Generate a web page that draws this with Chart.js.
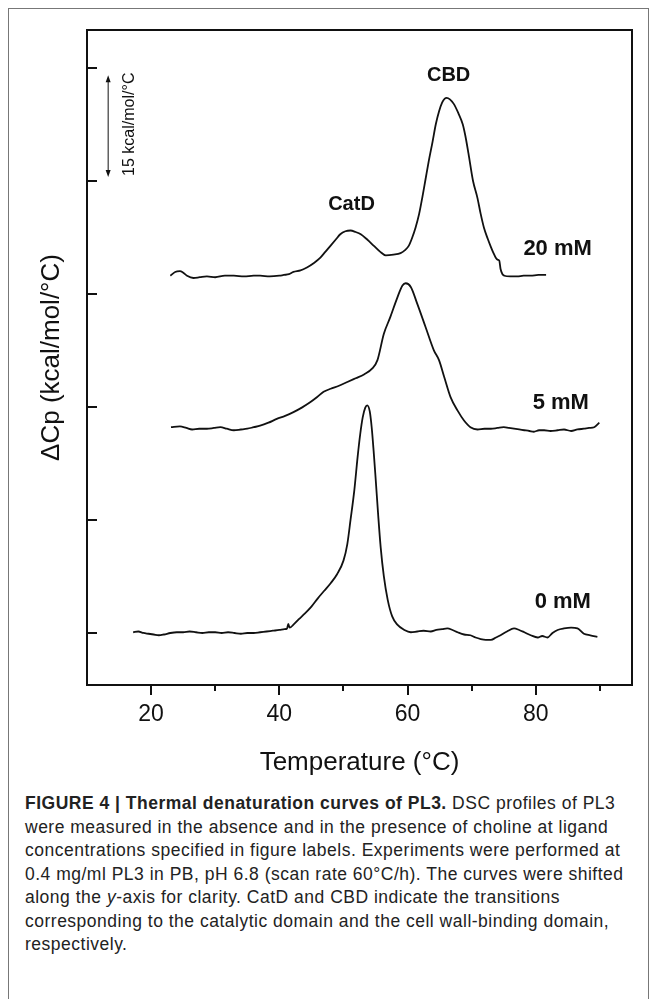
<!DOCTYPE html>
<html>
<head>
<meta charset="utf-8">
<script src="https://cdn.jsdelivr.net/npm/chart.js@4"></script>
<style>
  body { margin: 0; background: #fff; }
  #frame { position: absolute; left: 8px; top: 8px; width: 639px; height: 1010px; border: 1px solid #777; }
  #wrap { position: absolute; left: 0; top: 0; width: 657px; height: 790px; }
  #caption { position: absolute; left: 25px; top: 792px; white-space: nowrap; color: #222;
    font-family: "Liberation Sans", Arial, sans-serif; font-size: 17.5px; letter-spacing: 0.5px; line-height: 23.5px; }
</style>
</head>
<body>
<div id="frame"></div>
<div id="wrap"><canvas id="myChart"></canvas></div>
<div id="caption"><b>FIGURE 4 | Thermal denaturation curves of PL3.</b> DSC profiles of PL3<br>were measured in the absence and in the presence of choline at ligand<br>concentrations specified in figure labels. Experiments were performed at<br>0.4 mg/ml PL3 in PB, pH 6.8 (scan rate 60°C/h). The curves were shifted<br>along the <i>y</i>-axis for clarity. CatD and CBD indicate the transitions<br>corresponding to the catalytic domain and the cell wall-binding domain,<br>respectively.</div>
<script>
// temperatures (°C) and excess heat capacity (kcal/mol/°C, shifted)
const t0 = [17.2, 18.0, 18.8, 19.6, 20.4, 21.2, 22.0, 23.0, 24.0, 25.0, 26.0, 27.0, 28.0, 29.0, 30.0, 31.0, 32.0, 33.0, 34.0, 35.0,
  36.0, 37.0, 38.0, 39.0, 40.0, 40.8, 41.2, 41.4, 41.6, 42.2, 43.0, 44.0, 45.0, 46.0, 47.0, 48.0, 49.0, 50.0, 50.6, 51.1,
  51.7, 52.2, 52.6, 53.0, 53.4, 53.7, 54.1, 54.4, 54.7, 55.0, 55.4, 55.8, 56.3, 56.9, 57.6, 58.4, 59.5, 60.5, 61.5, 62.5,
  63.6, 64.5, 65.4, 66.2, 67.0, 67.8, 68.8, 69.8, 70.6, 71.4, 72.2, 73.0, 73.8, 74.5, 75.5, 76.6, 77.4, 78.2, 79.2, 80.3,
  81.0, 81.8, 82.6, 83.4, 84.4, 85.5, 86.5, 87.5, 88.5, 89.6];
const cp0 = [0.1, 0.2, 0.0, -0.1, -0.2, -0.3, -0.2, 0.0, 0.1, 0.1, 0.2, 0.1, 0.0, 0.1, 0.1, 0.0, 0.1, 0.0, -0.1, 0.0,
  0.0, 0.1, 0.2, 0.3, 0.4, 0.5, 0.6, 1.2, 0.7, 1.1, 1.8, 2.6, 3.5, 4.6, 5.6, 6.6, 7.8, 9.6, 11.8, 15.0,
  19.0, 23.3, 26.3, 28.6, 29.9, 30.2, 29.4, 27.3, 24.2, 20.7, 15.8, 11.4, 7.5, 4.4, 2.2, 1.1, 0.4, 0.1, 0.2, 0.3,
  0.2, 0.4, 0.5, 0.6, 0.4, 0.1, -0.2, -0.3, -0.6, -0.8, -0.9, -0.9, -0.6, -0.3, 0.2, 0.6, 0.4, 0.1, -0.3, -0.6,
  -0.4, -0.6, 0.0, 0.4, 0.6, 0.7, 0.6, -0.1, -0.3, -0.5];

const t5 = [23.1, 24.5, 25.5, 26.4, 27.5, 28.7, 29.8, 30.8, 31.8, 32.9, 34.0, 35.0, 36.0, 37.0, 38.3, 39.6, 40.9, 42.2, 43.5, 44.8,
  45.9, 46.9, 48.0, 49.3, 50.6, 51.9, 53.2, 54.5, 55.3, 56.3, 57.3, 58.4, 59.2, 59.7, 60.5, 61.5, 62.8, 64.1, 64.9, 65.7,
  66.7, 67.8, 68.8, 69.8, 70.9, 72.0, 73.0, 74.0, 75.0, 75.8, 76.6, 77.4, 78.2, 79.0, 79.7, 80.5, 81.3, 82.3, 83.4, 84.4,
  85.5, 86.5, 87.5, 88.3, 89.1, 89.9];
const cp5 = [27.3, 27.4, 27.2, 27.0, 27.1, 27.1, 27.2, 27.3, 27.1, 26.9, 27.0, 27.1, 27.3, 27.5, 27.9, 28.4, 28.8, 29.3, 29.9, 30.6,
  31.3, 32.0, 32.4, 32.8, 33.3, 33.8, 34.3, 35.1, 36.2, 39.7, 41.9, 44.5, 46.1, 46.4, 45.9, 43.7, 40.6, 37.5, 36.2, 34.0,
  31.3, 29.5, 28.2, 27.3, 27.0, 27.1, 27.1, 27.2, 27.3, 27.2, 27.1, 27.0, 26.9, 26.8, 26.7, 26.9, 26.9, 26.8, 26.9, 27.0,
  26.8, 27.0, 27.1, 27.2, 27.3, 27.9];

const t20 = [23.0, 23.75, 24.5, 25.0, 25.6, 26.6, 27.6, 28.7, 30.0, 31.5, 32.9, 34.5, 36.0, 37.0, 38.5, 40.0, 40.7, 41.5, 42.2, 43.3,
  44.3, 45.4, 46.4, 47.2, 48.0, 48.8, 49.5, 50.3, 51.1, 51.9, 52.7, 53.7, 54.7, 55.7, 56.6, 57.8, 58.9, 59.6, 60.2, 60.7,
  61.25, 61.8, 62.3, 62.8, 63.3, 63.9, 64.4, 64.9, 65.4, 65.8, 66.1, 66.6, 67.2, 67.9, 68.6, 69.0, 69.5, 70.2, 70.9, 71.4,
  71.9, 72.5, 73.0, 73.4, 73.75, 74.1, 74.3, 74.5, 74.8, 75.1, 76.0, 77.1, 78.1, 79.2, 80.4, 81.6];
const cp20 = [47.4, 47.9, 48.0, 47.8, 47.4, 47.1, 47.2, 47.3, 47.2, 47.4, 47.4, 47.3, 47.4, 47.4, 47.3, 47.4, 47.5, 47.6, 47.9, 48.1,
  48.5, 49.1, 49.8, 50.6, 51.4, 52.2, 52.9, 53.3, 53.4, 53.2, 52.9, 52.2, 51.4, 50.6, 50.1, 50.2, 50.4, 50.8, 51.4, 52.4,
  53.8, 55.6, 57.8, 60.2, 62.6, 65.2, 67.5, 69.2, 70.4, 70.9, 71.0, 70.8, 70.2, 69.0, 67.5, 66.0, 63.6, 60.0, 57.7, 55.6,
  53.8, 52.3, 51.2, 50.4, 49.8, 49.5, 49.4, 48.3, 47.6, 47.4, 47.3, 47.3, 47.4, 47.4, 47.5, 47.5];

const xTicks = [20, 30, 40, 50, 60, 70, 80, 90];
const yTicks = [0, 15, 30, 45, 60, 75];
const curveLabels = ['0 mM', '5 mM', '20 mM'];
const peakLabels = ['CatD', 'CBD'];
const scaleBarText = '15 kcal/mol/°C';

function pts(xs, ys) {
    return xs.map((x, i) => ({ x: x, y: ys[i] }));
}

// where the texts sit, in axis units
const notes = [
    { text: curveLabels[0], x: 84.2, y: 4.1, size: 22 },
    { text: curveLabels[1], x: 83.9, y: 30.5, size: 22 },
    { text: curveLabels[2], x: 83.4, y: 51.0, size: 22 },
    { text: peakLabels[0], x: 51.25, y: 56.8, size: 20 },
    { text: peakLabels[1], x: 66.4, y: 73.9, size: 20 },
];

const ink = '#111';
const sans = '"Liberation Sans", Arial, sans-serif';

const decorations = {
    id: 'decorations',
    afterDraw(chart) {
        const { ctx, chartArea: a, scales: { x, y } } = chart;
        ctx.save();
        ctx.strokeStyle = ink;
        ctx.lineWidth = 2;
        // top and right of the frame
        ctx.beginPath();
        ctx.moveTo(a.left, a.top);
        ctx.lineTo(a.right, a.top);
        ctx.lineTo(a.right, a.bottom);
        ctx.stroke();
        // y ticks point inward
        ctx.beginPath();
        y.ticks.forEach(t => {
            const py = Math.round(y.getPixelForValue(t.value));
            ctx.moveTo(a.left, py);
            ctx.lineTo(a.left + 10, py);
        });
        // x ticks point down, unlabelled ones shorter
        x.ticks.forEach(t => {
            const px = Math.round(x.getPixelForValue(t.value));
            ctx.moveTo(px, a.bottom);
            ctx.lineTo(px, a.bottom + (t.value % 20 === 0 ? 10 : 6));
        });
        ctx.stroke();

        ctx.fillStyle = ink;
        ctx.textAlign = 'center';
        ctx.textBaseline = 'middle';
        notes.forEach(n => {
            ctx.font = 'bold ' + n.size + 'px ' + sans;
            ctx.fillText(n.text, x.getPixelForValue(n.x), y.getPixelForValue(n.y));
        });

        // 15 kcal/mol/°C scale bar
        const bx = x.getPixelForValue(13.3);
        const b1 = y.getPixelForValue(74.0);
        const b2 = y.getPixelForValue(60.5);
        ctx.lineWidth = 1;
        ctx.beginPath();
        ctx.moveTo(bx, b1 + 4);
        ctx.lineTo(bx, b2 - 4);
        ctx.stroke();
        ctx.beginPath();
        ctx.moveTo(bx, b1);
        ctx.lineTo(bx - 2.5, b1 + 7);
        ctx.lineTo(bx + 2.5, b1 + 7);
        ctx.closePath();
        ctx.moveTo(bx, b2);
        ctx.lineTo(bx - 2.5, b2 - 7);
        ctx.lineTo(bx + 2.5, b2 - 7);
        ctx.closePath();
        ctx.fill();
        ctx.translate(x.getPixelForValue(16.7), y.getPixelForValue(67.5));
        ctx.rotate(-Math.PI / 2);
        ctx.font = '16px ' + sans;
        ctx.fillText(scaleBarText, 0, 0);
        ctx.restore();
    }
};

const ch = document.getElementById('myChart').getContext('2d');

const lineStyle = {
    borderColor: ink,
    borderWidth: 1.8,
    pointRadius: 0,
    fill: false,
    cubicInterpolationMode: 'monotone',
};

const config = {
    type: 'line',
    data: {
        datasets: [
            { label: curveLabels[0], data: pts(t0, cp0), ...lineStyle },
            { label: curveLabels[1], data: pts(t5, cp5), ...lineStyle },
            { label: curveLabels[2], data: pts(t20, cp20), ...lineStyle },
        ],
    },
    options: {
        responsive: true,
        maintainAspectRatio: false,
        animation: false,
        layout: { padding: { top: 30, right: 25, left: 0, bottom: 0 } },
        plugins: { legend: { display: false }, tooltip: { enabled: false } },
        scales: {
            x: {
                type: 'linear',
                min: 10,
                max: 95,
                afterBuildTicks: s => { s.ticks = xTicks.map(v => ({ value: v })); },
                afterFit: s => { s.height = 105; },
                grid: { display: false, drawTicks: false },
                border: { display: true, color: ink, width: 2 },
                ticks: {
                    padding: 16,
                    color: ink,
                    font: { size: 23, family: sans },
                    callback: v => (v % 20 === 0 ? String(v) : ''),
                },
                title: {
                    display: true,
                    text: 'Temperature (°C)',
                    color: ink,
                    font: { size: 26, family: sans },
                    padding: { top: 0, bottom: 12 },
                },
            },
            y: {
                min: -6.9,
                max: 80,
                afterBuildTicks: s => { s.ticks = yTicks.map(v => ({ value: v })); },
                afterFit: s => { s.width = 87; },
                grid: { display: false, drawTicks: false },
                border: { display: true, color: ink, width: 2 },
                ticks: { display: false },
                title: {
                    display: true,
                    text: 'ΔCp (kcal/mol/°C)',
                    color: ink,
                    font: { size: 26, family: sans },
                    padding: { top: 36, bottom: 0 },
                },
            },
        },
    },
    plugins: [decorations],
};

const myChart = new Chart(ch, config);
</script>
</body>
</html>
